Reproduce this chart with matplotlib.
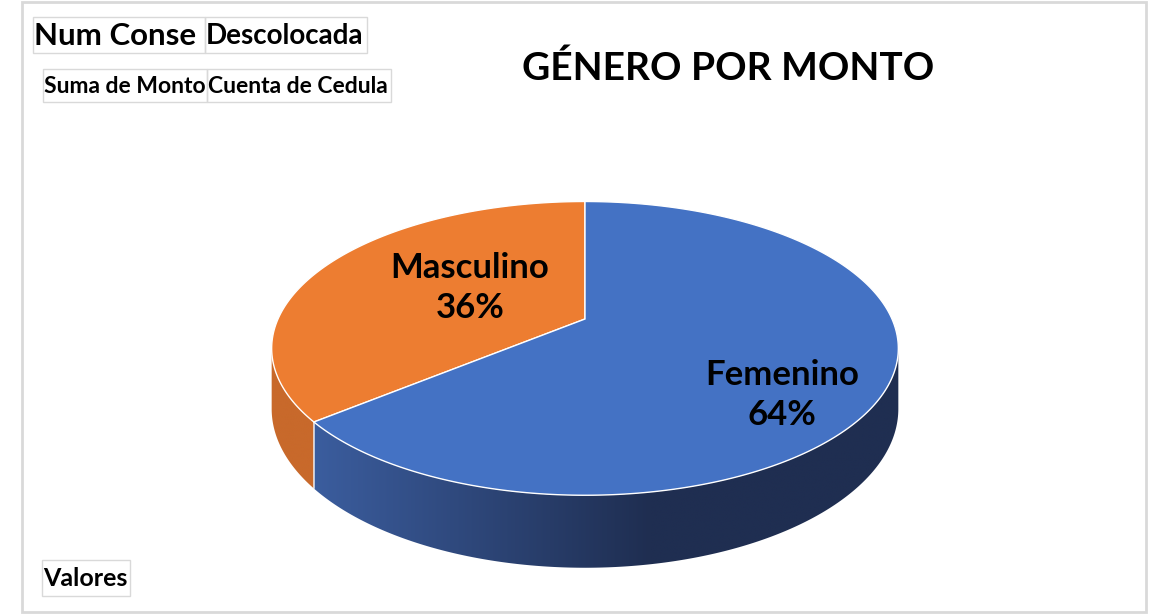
import numpy as np
import matplotlib.pyplot as plt
from matplotlib.patches import Polygon, Rectangle
from matplotlib.colors import to_rgb

# Datos del grafico
etiquetas = ['Masculino', 'Femenino']
montos = [36, 64]
colores_tapa = ['#ED7D31', '#4472C4']
colores_lado = [('#c8692b', '#c8692b'), ('#3b5d9e', '#1f2e51')]

titulo = 'GÉNERO POR MONTO'
celdas = [
    ('Num Conse', (33, 17, 172, 36), 22.5, 'bold'),
    ('Descolocada', (205, 17, 162, 36), 20, 'bold'),
    ('Suma de Monto', (43, 69, 164, 33), 16.5, 'bold'),
    ('Cuenta de Cedula', (207, 69, 184, 33), 16.5, 'bold'),
    ('Valores', (42, 560, 88, 36), 18, 'bold'),
]

# geometria del pastel 3D (pixeles)
cx, cy = 585, 319
A, B = 307, 141
k = 0.2          # perspectiva
prof = 58        # grosor
pos_etiquetas = [(470, 288), (782, 395)]

plt.rcParams['font.family'] = ['Lato', 'DejaVu Sans']


def proyectar(t, r=1.0, z=0.0):
    X = r * np.cos(t)
    Y = -r * np.sin(t)
    w = 1 - k * Y
    return cx + A * X / w, cy + B * Y / w + z / w


fig = plt.figure(figsize=(11.55, 6.15), dpi=100)
ax = fig.add_axes([0, 0, 1, 1])

# marco exterior
ax.add_patch(Rectangle((22, 2), 1124, 610, fill=False, edgecolor='#d9d9d9', lw=2))

fracs = np.array(montos) / sum(montos)
inicio = np.pi / 2
angulos = []
for f in fracs:
    angulos.append((inicio, inicio + 2 * np.pi * f))
    inicio += 2 * np.pi * f

# lados visibles con degradado
t_izq = np.pi + np.arcsin(k)
t_der = 2 * np.pi - np.arcsin(k)
for (a0, a1), (c0, c1) in zip(angulos, colores_lado):
    lo = max(a0, t_izq)
    hi = min(a1, t_der)
    if hi <= lo:
        continue
    ts = np.linspace(lo, hi, 300)
    xs, ys = proyectar(ts)
    xb, yb = proyectar(ts[::-1], z=prof)
    pts = list(zip(xs, ys)) + list(zip(xb, yb))
    lado = Polygon(pts, closed=True, facecolor='none', edgecolor='none')
    ax.add_patch(lado)
    x_min, x_max = min(xs.min(), xb.min()) - 2, max(xs.max(), xb.max()) + 2
    y_min, y_max = min(ys.min(), yb.min()) - 2, max(ys.max(), yb.max()) + 2
    gx = np.linspace(x_min, x_max, 400)
    u = np.clip((gx - 314) / (650 - 314), 0, 1)[:, None]
    grad = (1 - u) * np.array(to_rgb(c0)) + u * np.array(to_rgb(c1))
    img = ax.imshow(grad[None, :, :], extent=[x_min, x_max, y_max, y_min],
                    aspect='auto', interpolation='bilinear', zorder=1)
    img.set_clip_path(lado)
    # linea blanca en la division
    if a0 > t_izq:
        xa, ya = proyectar(a0)
        xb2, yb2 = proyectar(a0, z=prof)
        ax.plot([xa, xb2], [ya, yb2], color='white', lw=1.2, alpha=0.8, zorder=2)

# caras superiores
for (a0, a1), col in zip(angulos, colores_tapa):
    ts = np.linspace(a0, a1, 300)
    xs, ys = proyectar(ts)
    pts = [proyectar(0, r=0)] + list(zip(xs, ys))
    ax.add_patch(Polygon(pts, closed=True, facecolor=col, edgecolor='white',
                         lw=1.0, zorder=3))

# etiquetas
for nombre, f, (px, py) in zip(etiquetas, fracs, pos_etiquetas):
    ax.text(px, py, f'{nombre}\n{f * 100:.0f}%', ha='center', va='center',
            fontsize=25, fontweight='bold', color='black', linespacing=1.32,
            zorder=4)

ax.text(728, 68, titulo, ha='center', va='center', fontsize=28, fontweight='bold')

for texto, (x, y, w, h), fs, peso in celdas:
    ax.add_patch(Rectangle((x, y), w, h, fill=False, edgecolor='#d9d9d9', lw=1))
    ax.text(x + 1, y + h / 2 + 1, texto, ha='left', va='center', fontsize=fs,
            fontweight=peso)

ax.set_xlim(0, 1155)
ax.set_ylim(615, 0)
ax.axis('off')

fig.savefig('out.png', dpi=100)
